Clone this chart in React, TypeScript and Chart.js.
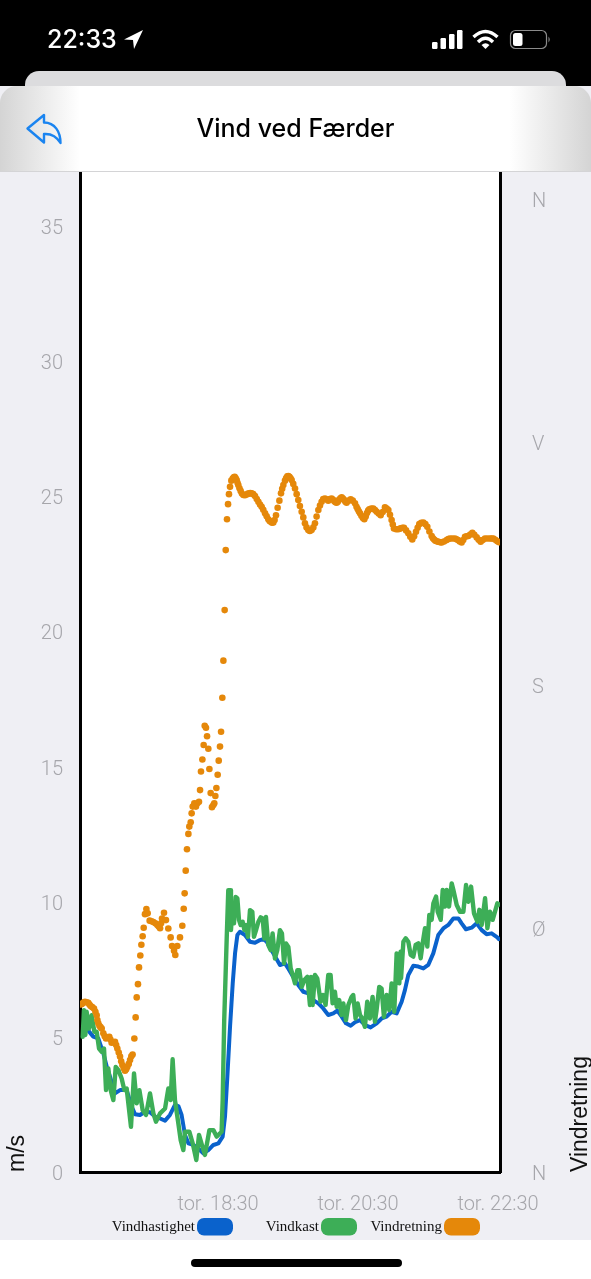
import React, { useEffect, useRef } from "react";
import { Chart, registerables } from "chart.js";

Chart.register(...registerables);

const TITLE = "Vind ved Færder";
const CLOCK = "22:33";
const LEFT_TITLE = "m/s";
const RIGHT_TITLE = "Vindretning";
const COMPASS = ["N", "Ø", "S", "V", "N"];
const TIME_TICKS = [120, 240, 360];
const TIME_LABELS = ["tor. 18:30", "tor. 20:30", "tor. 22:30"];

// minutes after 16:30
const blueMinutes = [2.9, 7.1, 11.4, 15.7, 20, 22.9, 25.7, 30, 34.3, 40, 44.3, 47.1, 51.4, 55.7, 60, 64.3, 68.6, 72.9, 77.1, 81.4, 84.3, 87.1, 90, 92.9, 97.1, 101.4, 105.7, 110, 114.3, 118.6, 122.3, 124.3, 126.3, 128.6, 130.9, 132.9, 134.9, 137.1, 141.4, 145.7, 150, 154.3, 157.1, 160, 162.9, 165.7, 168.6, 171.4, 175.7, 178.5, 182.8, 187.1, 191.4, 195.7, 200, 204.3, 208.5, 212.8, 217.1, 220.5, 224.3, 228, 232, 235.7, 240, 244.3, 249.1, 254.3, 258.5, 262.8, 267.1, 271.4, 275.7, 278.5, 281.4, 285.7, 290, 294.3, 298.5, 302.8, 307.1, 311.4, 315.7, 320, 324.3, 327.1, 330.8, 335.7, 340, 344.3, 348.5, 352.8, 357.7, 359];
const blueSpeed = [5.31, 5.23, 5.01, 4.94, 4.39, 3.9, 3.53, 2.91, 3.03, 3.03, 2.42, 2.14, 2.11, 2.23, 2.21, 2.05, 1.98, 1.9, 2.11, 2.48, 2.44, 2.11, 1.37, 1.06, 1.0, 0.87, 0.69, 0.81, 1.0, 1.06, 1.31, 2.05, 3.53, 5.37, 6.98, 8.09, 8.77, 8.89, 8.77, 8.52, 8.48, 8.58, 8.62, 8.52, 8.31, 8.09, 7.87, 7.66, 7.72, 7.53, 7.22, 6.92, 6.67, 6.61, 6.36, 6.24, 6.05, 5.81, 5.87, 5.97, 5.75, 5.5, 5.41, 5.54, 5.62, 5.44, 5.35, 5.5, 5.68, 5.75, 5.93, 5.87, 6.3, 6.73, 7.29, 7.63, 7.6, 7.53, 7.66, 8.09, 8.77, 9.01, 9.14, 9.38, 9.38, 9.2, 8.98, 9.04, 9.2, 8.95, 8.8, 8.83, 8.68, 8.62];

const gustMinutes = [2.3, 3.4, 4.6, 5.7, 7.7, 10, 12.3, 14.3, 16.3, 18.6, 20.6, 22.3, 24.3, 26.3, 28.6, 30.6, 32.9, 35.7, 38, 40, 43.7, 46.3, 48.6, 50.9, 53.7, 56.6, 60, 62.9, 65.1, 68.6, 72.9, 75.7, 77.7, 79.4, 81.4, 84.3, 86.3, 88.6, 90, 93.7, 96.6, 99.7, 102, 104.9, 107.1, 110.9, 114.3, 117.1, 121.4, 122.3, 123.6, 125.7, 127.1, 128.6, 129.4, 130.6, 132, 133.4, 134.9, 136.3, 137.7, 139.4, 140.9, 142.3, 144, 145.7, 147.7, 149.1, 150.9, 152.9, 154.9, 156.6, 158, 159.4, 161.4, 163.4, 165.1, 167.1, 169.1, 171.4, 173.1, 174.9, 176.6, 178.6, 180.6, 182.3, 184.3, 186.3, 188, 190, 192.3, 194.9, 197.1, 198, 199.4, 201.4, 203.4, 204.8, 206.2, 208.5, 210.5, 212.8, 214.8, 216.5, 218.5, 220, 222.2, 224.2, 225.7, 228, 230, 232.8, 234.2, 236.2, 238, 240, 242, 244.2, 246.2, 248.5, 250.8, 252.8, 254.2, 256.5, 258.5, 260.5, 262.8, 265.1, 267.1, 269.4, 271.4, 273.7, 274.8, 275.2, 277.2, 279.2, 281.4, 283.4, 285.7, 287.7, 290, 292, 293.7, 295.7, 297.7, 299.4, 301.4, 302.9, 305.2, 306.6, 309.2, 310.9, 312.9, 314.3, 316.3, 318.6, 320, 322.9, 325.7, 328.6, 330.9, 332.9, 335.2, 337.7, 340.6, 342.3, 344.3, 347.2, 349.2, 351.4, 353.7, 357.7, 359];
const gustSpeed = [5.0, 5.99, 5.07, 5.93, 5.31, 5.8, 5.19, 5.19, 4.57, 4.45, 4.57, 3.03, 3.83, 3.03, 2.66, 3.89, 3.77, 3.46, 3.03, 3.09, 1.67, 3.65, 2.54, 3.03, 2.29, 2.11, 2.91, 2.17, 1.86, 2.17, 2.35, 3.09, 2.66, 4.17, 2.66, 1.8, 1.18, 0.81, 1.49, 1.49, 1.06, 0.44, 1.37, 0.94, 0.63, 1.55, 1.55, 1.31, 1.49, 2.66, 5.6, 8.58, 10.43, 10.43, 8.95, 9.69, 9.2, 10.18, 10.12, 9.32, 9.14, 9.26, 8.95, 9.14, 8.7, 9.69, 9.63, 8.7, 8.95, 9.26, 9.42, 9.38, 8.64, 9.44, 8.4, 8.21, 8.83, 7.9, 8.21, 8.95, 8.83, 7.72, 8.46, 8.33, 7.53, 7.29, 6.98, 7.47, 7.47, 6.85, 7.1, 7.22, 6.18, 7.22, 6.18, 7.29, 7.16, 6.73, 6.3, 6.55, 6.18, 7.29, 7.29, 6.24, 6.67, 6.11, 6.36, 5.81, 6.24, 5.62, 6.18, 6.48, 6.55, 5.68, 6.24, 5.81, 5.68, 5.37, 6.3, 5.68, 6.48, 5.56, 5.99, 6.85, 6.79, 5.74, 6.55, 5.99, 6.98, 5.93, 8.09, 6.98, 8.15, 7.17, 8.52, 8.65, 8.52, 8.03, 7.97, 8.4, 8.46, 7.91, 8.46, 9.02, 8.34, 9.51, 9.33, 9.94, 10.19, 9.63, 9.33, 10.44, 9.82, 10.44, 9.82, 10.68, 10.44, 9.88, 9.63, 9.63, 10.62, 10.0, 10.56, 9.57, 9.26, 9.7, 9.14, 10.13, 9.02, 9.63, 9.33, 9.94, 9.9];

const orangeMinutes = [0.6, 1.5, 2.3, 3.3, 4.3, 5.7, 7.1, 8.1, 9.1, 10.5, 12, 13.2, 14.3, 14.9, 15.7, 16.6, 17.6, 18.6, 20, 21.2, 22.3, 23.7, 25.1, 26.1, 27.1, 28.5, 30, 31, 32, 33.2, 34.3, 35.3, 36.3, 37.5, 38.6, 39.6, 40.6, 41.8, 42.9, 44, 45.1, 46.6, 47.7, 48.6, 49.7, 50.6, 51.7, 52.6, 53.7, 54.6, 55.7, 56.9, 58, 59.7, 61.3, 62.9, 64.6, 66.3, 67.5, 68.6, 69.5, 70.3, 72, 73.7, 75.7, 77.7, 78.9, 80.6, 81.7, 83.4, 85.7, 87.7, 88.9, 89.7, 90.6, 91.7, 92.9, 93.7, 94.9, 95.7, 96.6, 98, 99.4, 100.6, 102, 102.9, 103.7, 104.9, 106, 106.9, 108, 108.9, 110, 110.9, 112, 113.1, 114.3, 115.1, 116, 116.9, 118, 118.9, 120, 120.9, 122, 122.9, 124, 124.9,
  126, 126.9, 127.7, 128.6, 129.7, 130.9, 131.8, 132.6, 133.5, 134.3, 135, 135.7, 136.7, 137.7, 138.8, 140, 141.4, 142.9, 144, 145, 146, 147.1, 148.5, 150, 151.5, 152.9, 154.3, 155.7, 157.1, 158.6, 160, 161.4, 162.5, 163.5, 164.6, 165.7, 166.8, 168, 169.4, 170.9, 172.3, 173.3, 174.3, 175.7, 176.7, 177.7, 178.6, 179.5, 180.5, 181.4, 182.8, 184.3, 185.7, 187.1, 188.5, 190, 191.4, 192.8, 194.2, 195.7, 197, 198.5, 200, 201.4, 202.8, 204.3, 205.7, 207.1, 208.5, 210, 211.4, 212.8, 214.2, 215.7, 217, 218, 219, 220, 221, 222, 223.2, 224.3, 225.4, 226.5, 227.5, 228.5, 230.2, 232, 233.8, 235.7, 237, 238, 239, 240, 241.2, 242.5, 243.7, 244.9, 246, 247, 248, 249.7, 251.4, 252.9, 254.3, 256, 257.7, 259.5, 261.4, 262.9, 264.3, 265.7, 267.1, 268.1, 269.1, 271, 272.8, 274, 275, 276.4, 277.7, 279.5, 281.4, 283.1, 284.8, 286.4, 288, 289.4, 290.8, 292.5, 294.3, 296, 297.7, 299.5, 301.4, 302.5, 303.5, 304.6, 305.7, 307, 308, 309, 310, 312, 314.3, 315.7, 317.1, 319.2, 321.4, 322.7, 324, 325.5, 327.1, 328.5, 330, 331.4, 332.8, 334.5, 336.3, 338, 340, 341.7, 343.4, 345.2, 347.1, 349.2, 351.4, 352.8, 354.3, 356, 357.7, 359.2];
const orangeDegrees = [62, 62.2, 62.4, 62.8, 63, 62.8, 62.6, 62, 61.4, 61, 60.5, 59.3, 58, 56.2, 55, 54.1, 53.6, 53.1, 51.3, 50.2, 49.4, 49.7, 50, 49, 47.8, 48, 48.2, 47, 45.7, 44.2, 42.7, 41, 39.6, 38.4, 37.5, 38, 38.9, 40, 41.4, 42.8, 43.5, 49.4, 57.2, 64.6, 69.5, 75.7, 80.1, 84.1, 87.2, 90.4, 95.4, 97.3, 95.7, 93, 92.8, 92.5, 92, 91.4, 90.8, 90.2, 92, 93.8, 95.9, 93.2, 90.1, 86.8, 83.6, 81.9, 80.3, 83.6, 86.8, 91.1, 97.4, 103.1, 111.5, 119.4, 125.1, 127.8, 129.4, 132.7, 135.2, 136.4, 135.2, 136.4, 137, 141.3, 148.2, 152.6, 158, 165.1, 164.4, 161.2, 156.6, 149.1, 140.2, 135, 135.8, 136.4, 139.1, 142.1, 147, 152.2, 157.4, 162.9, 175.5, 189.2, 207.9, 230.1,
  241.5, 247.1, 250.8, 253.5, 255.8, 256.6, 257, 257.2, 256.7, 256, 255, 254.2, 253, 252, 251, 250.5, 250.4, 250.7, 251, 251, 251.2, 251.1, 250.8, 250.1, 249, 248, 247, 246.1, 245, 243.7, 242.6, 241.5, 240.9, 240.6, 240.2, 240.3, 241.2, 243, 245.8, 248.4, 251.1, 252.8, 254.2, 255.8, 256.8, 257.4, 257.5, 257.2, 256.7, 256, 254.6, 252.9, 250.8, 248.6, 246.4, 244.3, 242.2, 240, 238.5, 237.5, 237.2, 237.5, 238.5, 240, 242.5, 244.9, 246.6, 248, 249, 249.2, 248.8, 248.4, 249, 249.2, 248.7, 248.2, 247.8, 247.6, 248, 248.7, 249.3, 249.6, 249.2, 248.6, 248, 247.6, 248.4, 248.9, 248.4, 247.4, 246.1, 245.3, 244.5, 243.7, 242.8, 242, 241.5, 242.5, 243.8, 244.7, 245.2, 245.5, 245.5, 244.9, 244.3, 243.6, 243, 244.2, 245.9, 245.5, 244.9, 243.2, 241.2, 239.6, 238.1, 237.8, 237.8, 238, 238.2, 238.4, 238.4, 237.4, 236.3, 235, 234, 235.2, 236.9, 238.4, 239.7, 240.2, 240.3, 239.7, 238.7, 237, 235.3, 234.5, 234, 233.6, 233.4, 233.2, 233.1, 233, 232.9, 233.3, 233.8, 234.2, 234.4, 234.4, 234.4, 234.1, 233.8, 233.3, 232.9, 233.8, 235, 235.2, 235.3, 235.9, 236.5, 235.8, 234.8, 233.9, 233.2, 233.8, 234.4, 234.4, 234.4, 234.4, 234.4, 233.9, 233.4, 233];

const SERIES_NAMES = ["Vindhastighet", "Vindkast", "Vindretning"];
const BLUE = "#0A62CC";
const GREEN = "#3DAE57";
const ORANGE = "#E5880A";
const TICK_COLOR = "#A6A6AB";

const toPoints = (xs: number[], ys: number[]) => xs.map((x, i) => ({ x, y: ys[i] }));

const pageFill = {
  id: "pageFill",
  beforeDraw(chart: any) {
    const { ctx, chartArea: a, width, height } = chart;
    ctx.save();
    ctx.fillStyle = "#EFEFF4";
    ctx.fillRect(0, 0, width, height);
    ctx.fillStyle = "#FFFFFF";
    ctx.fillRect(a.left, a.top, a.right - a.left, a.bottom - a.top);
    ctx.restore();
  },
};

const sideTitles = {
  id: "sideTitles",
  afterDraw(chart: any) {
    const { ctx, chartArea: a } = chart;
    const draw = (text: string, x: number, size: number) => {
      ctx.save();
      ctx.translate(x, a.bottom);
      ctx.rotate(-Math.PI / 2);
      ctx.font = `${size}px "Liberation Sans"`;
      ctx.fillStyle = "#111";
      ctx.textAlign = "left";
      ctx.textBaseline = "alphabetic";
      ctx.fillText(text, 0, 0);
      ctx.restore();
    };
    draw(LEFT_TITLE, 24, 23);
    draw(RIGHT_TITLE, 587, 23);
  },
};

const bottomLegend = {
  id: "bottomLegend",
  afterDraw(chart: any) {
    const { ctx } = chart;
    const boxLeft = [197, 321, 444];
    chart.data.datasets.forEach((ds: any, i: number) => {
      ctx.save();
      ctx.fillStyle = ds.legendColor;
      ctx.beginPath();
      ctx.roundRect(boxLeft[i], 1218, 36, 17.5, 7);
      ctx.fill();
      ctx.font = '15px "Liberation Serif"';
      ctx.fillStyle = "#111";
      ctx.textAlign = "right";
      ctx.textBaseline = "middle";
      ctx.fillText(ds.label, boxLeft[i] - 2, 1227);
      ctx.restore();
    });
  },
};

function Icons() {
  return (
    <svg width={591} height={172} style={{ position: "absolute", left: 0, top: 0 }}>
      <path d="M143 30 L124 39.5 L133 40 L134 49 Z" fill="#fff" />
      <rect x={432} y={42} width={5.5} height={7} rx={1.2} fill="#fff" />
      <rect x={440.5} y={38} width={5.5} height={11} rx={1.2} fill="#fff" />
      <rect x={449} y={34} width={5.5} height={15} rx={1.2} fill="#fff" />
      <rect x={457} y={30} width={5.5} height={19} rx={1.2} fill="#fff" />
      <path d="M473.5 37 Q485.5 26 497.5 37" stroke="#fff" strokeWidth={3.4} fill="none" />
      <path d="M478 42 Q485.5 34.5 493 42" stroke="#fff" strokeWidth={3.4} fill="none" />
      <path d="M481.5 45 Q485.5 41.5 489.5 45 L485.5 49 Z" fill="#fff" />
      <rect x={510.5} y={30.5} width={36} height={18} rx={5} stroke="#8b8b8b" strokeWidth={1.2} fill="none" />
      <rect x={513} y={33} width={9.5} height={13} rx={2.5} fill="#fff" />
      <path d="M548.5 36.5 Q551 39.5 548.5 42.5 Z" fill="#8b8b8b" />
      <path
        d="M27.5 128.5 L44 115 L44 122.5 C55 122.5 60.5 132 60.5 143 C56 135.5 50 133.5 44 134 L44 142.5 Z"
        fill="none"
        stroke="#1A84F0"
        strokeWidth={2.4}
        strokeLinejoin="round"
      />
    </svg>
  );
}

export default function App() {
  const ref = useRef<HTMLCanvasElement>(null);

  useEffect(() => {
    const chart = new Chart(ref.current as HTMLCanvasElement, {
      type: "scatter",
      plugins: [pageFill, sideTitles, bottomLegend],
      data: {
        datasets: [
          {
            label: SERIES_NAMES[0],
            data: toPoints(blueMinutes, blueSpeed),
            yAxisID: "y",
            showLine: true,
            borderColor: BLUE,
            borderWidth: 4,
            borderJoinStyle: "round",
            borderCapStyle: "round",
            pointRadius: 0,
            order: 3,
            legendColor: BLUE,
          } as any,
          {
            label: SERIES_NAMES[1],
            data: toPoints(gustMinutes, gustSpeed),
            yAxisID: "y",
            showLine: true,
            borderColor: GREEN,
            borderWidth: 4.4,
            borderJoinStyle: "round",
            borderCapStyle: "round",
            pointRadius: 0,
            order: 2,
            legendColor: GREEN,
          } as any,
          {
            label: SERIES_NAMES[2],
            data: toPoints(orangeMinutes, orangeDegrees),
            yAxisID: "y2",
            showLine: false,
            backgroundColor: ORANGE,
            borderWidth: 0,
            pointRadius: 3.3,
            order: 1,
            legendColor: ORANGE,
          } as any,
        ],
      },
      options: {
        responsive: false,
        animation: false,
        layout: { padding: { top: 172, left: 0, right: 0, bottom: 0 } },
        plugins: { legend: { display: false }, tooltip: { enabled: false } },
        scales: {
          x: {
            type: "linear",
            min: 0,
            max: 360,
            grid: { display: false, drawTicks: false },
            border: { display: true, color: "#000", width: 3 },
            afterBuildTicks: (s: any) => {
              s.ticks = TIME_TICKS.map((value) => ({ value }));
            },
            afterFit: (s: any) => {
              s.height = 68;
            },
            ticks: {
              autoSkip: false,
              maxRotation: 0,
              padding: 21,
              labelOffset: -2,
              color: TICK_COLOR,
              font: { family: "Roboto", weight: 300, size: 20 },
              callback: (v: any) => TIME_LABELS[TIME_TICKS.indexOf(Number(v))],
            },
          },
          y: {
            position: "left",
            min: 0,
            max: 37,
            grid: { display: false, drawTicks: false },
            border: { display: true, color: "#000", width: 3 },
            afterFit: (s: any) => {
              s.width = 80;
            },
            ticks: {
              stepSize: 5,
              includeBounds: false,
              padding: 17,
              labelOffset: 3,
              color: TICK_COLOR,
              font: { family: "Roboto", weight: 300, size: 20 },
            },
          },
          y2: {
            position: "right",
            min: 0,
            max: 370,
            grid: { display: false, drawTicks: false },
            border: { display: true, color: "#000", width: 3 },
            afterFit: (s: any) => {
              s.width = 91;
            },
            ticks: {
              stepSize: 90,
              includeBounds: false,
              padding: 32,
              labelOffset: 2.5,
              color: TICK_COLOR,
              font: { family: "Roboto", weight: 300, size: 20 },
              callback: (v: any) => COMPASS[Number(v) / 90],
            },
          },
        },
      },
    } as any);
    return () => chart.destroy();
  }, []);

  return (
    <div style={{ position: "absolute", left: 0, top: 0, width: 591, height: 1279, overflow: "hidden", background: "#fff" }}>
      <canvas ref={ref} width={591} height={1240} style={{ position: "absolute", left: 0, top: 0, display: "block" }} />
      <div style={{ position: "absolute", left: 0, top: 0, width: 591, height: 86, background: "#000" }} />
      <div style={{ position: "absolute", left: 25, top: 71, width: 541, height: 40, background: "#DCDCDE", borderRadius: "14px 14px 0 0" }} />
      <div
        style={{
          position: "absolute",
          left: 0,
          top: 86,
          width: 591,
          height: 85,
          background:
            "linear-gradient(90deg,rgba(212,212,212,1) 0,rgba(255,255,255,1) 80px,rgba(255,255,255,1) 510px,rgba(212,212,212,1) 100%)",
          borderRadius: "17px 17px 0 0",
          borderBottom: "1px solid #D4D4D6",
        }}
      />
      <div
        style={{
          position: "absolute",
          left: 0,
          top: 111,
          width: 591,
          textAlign: "center",
          fontFamily: "Inter",
          fontWeight: 500,
          fontSize: 25,
          lineHeight: "34px",
          color: "#000",
        }}
      >
        {TITLE}
      </div>
      <div
        style={{
          position: "absolute",
          left: 47,
          top: 22,
          fontFamily: "Inter",
          fontWeight: 500,
          fontSize: 25,
          lineHeight: "34px",
          color: "#fff",
        }}
      >
        {CLOCK}
      </div>
      <Icons />
      <div style={{ position: "absolute", left: 190.5, top: 1259, width: 211, height: 8, borderRadius: 4, background: "#000" }} />
    </div>
  );
}
